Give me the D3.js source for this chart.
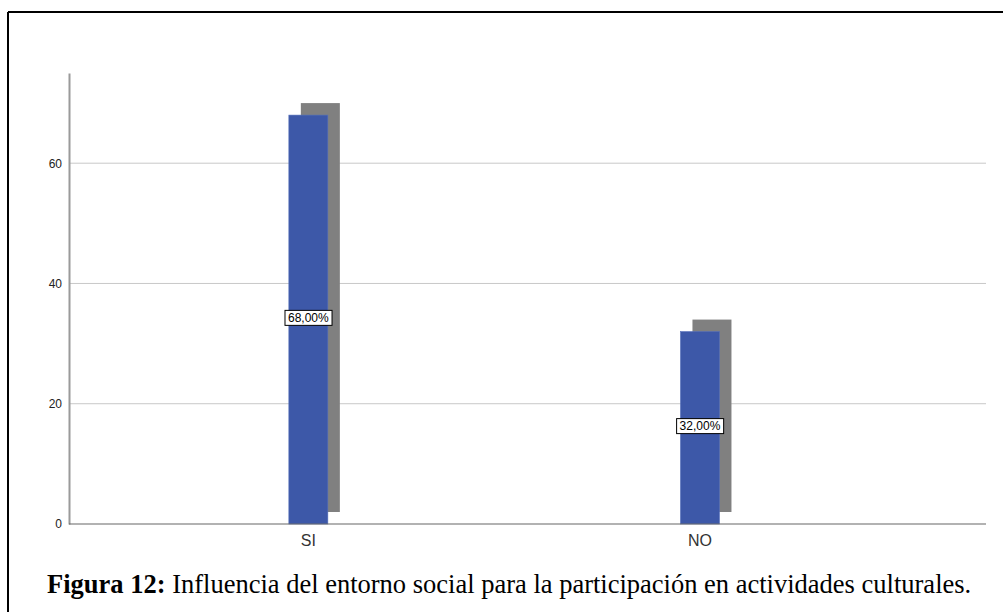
<!DOCTYPE html>
<html>
<head>
<meta charset="utf-8">
<script src="https://cdn.jsdelivr.net/npm/d3@7/dist/d3.min.js"></script>
<style>
  html, body { margin: 0; padding: 0; background: #fff; }
  svg { display: block; }
</style>
</head>
<body>
<svg id="chart" width="1003" height="612"></svg>
<script>
// Respuestas por categoría (porcentaje)
const categories = ["SI", "NO"];
const values = [68, 32];
const valueLabels = ["68,00%", "32,00%"];
const yTicks = [0, 20, 40, 60];
const caption = { bold: "Figura 12:", text: " Influencia del entorno social para la participación en actividades culturales." };

const svg = d3.select("#chart");

// Marco de la figura
svg.append("line").attr("x1", 8).attr("x2", 1003).attr("y1", 12).attr("y2", 12)
  .attr("stroke", "#000").attr("stroke-width", 2);
svg.append("line").attr("x1", 8).attr("x2", 8).attr("y1", 12).attr("y2", 612)
  .attr("stroke", "#000").attr("stroke-width", 2);

const plot = { left: 69, right: 986, top: 73, bottom: 524 };

const x = d3.scaleBand()
  .domain(categories)
  .range([plot.left, plot.right])
  .paddingInner(0.9004)
  .paddingOuter(0.621)
  .align(0.452);

const y = d3.scaleLinear().domain([0, 75]).range([plot.bottom, plot.top]);

// Líneas de cuadrícula
svg.append("g")
  .selectAll("line")
  .data(yTicks.filter(d => d > 0))
  .join("line")
  .attr("x1", plot.left).attr("x2", plot.right)
  .attr("y1", d => y(d)).attr("y2", d => y(d))
  .attr("stroke", "#c8c8c8").attr("stroke-width", 1);

// Eje Y
const yAxis = svg.append("g")
  .attr("transform", `translate(${plot.left},0)`)
  .call(d3.axisLeft(y).tickValues(yTicks).tickSize(0).tickPadding(7).tickFormat(d3.format("d")));
yAxis.select(".domain").attr("stroke", "#9a9a9a").attr("stroke-width", 2);
yAxis.selectAll("text").attr("font-family", "Liberation Sans, Arial, sans-serif")
  .attr("font-size", 12).attr("fill", "#222");

// Sombra de las barras
const shadowOffset = 12;
svg.append("g")
  .selectAll("rect")
  .data(categories)
  .join("rect")
  .attr("x", (d) => x(d) + shadowOffset)
  .attr("y", (d, i) => y(values[i]) - shadowOffset)
  .attr("width", x.bandwidth())
  .attr("height", (d, i) => y(0) - y(values[i]))
  .attr("fill", "#808080");

// Barras
svg.append("g")
  .selectAll("rect")
  .data(categories)
  .join("rect")
  .attr("x", d => x(d))
  .attr("y", (d, i) => y(values[i]))
  .attr("width", x.bandwidth())
  .attr("height", (d, i) => y(0) - y(values[i]))
  .attr("fill", "#3d58a8")
  .attr("stroke", "#5570bb").attr("stroke-width", 0.6);

// Eje X
const xAxis = svg.append("g")
  .attr("transform", `translate(0,${plot.bottom})`)
  .call(d3.axisBottom(x).tickSize(0).tickPadding(11));
xAxis.select(".domain").remove();
svg.append("line")
  .attr("x1", plot.left).attr("x2", plot.right)
  .attr("y1", plot.bottom).attr("y2", plot.bottom)
  .attr("stroke", "#666").attr("stroke-width", 1.2);
xAxis.selectAll("text").attr("font-family", "Liberation Sans, Arial, sans-serif")
  .attr("font-size", 16).attr("fill", "#333");

// Etiquetas de valor
const lbl = svg.append("g").selectAll("g")
  .data(categories)
  .join("g")
  .attr("transform", (d, i) => `translate(${x(d) + x.bandwidth() / 2},${(y(values[i]) + y(0)) / 2 - 2})`);
lbl.append("text")
  .attr("text-anchor", "middle")
  .attr("dy", "0.36em")
  .attr("font-family", "Liberation Sans, Arial, sans-serif")
  .attr("font-size", 12)
  .attr("fill", "#000")
  .text((d, i) => valueLabels[i]);
lbl.each(function () {
  const g = d3.select(this);
  const b = g.select("text").node().getBBox();
  g.insert("rect", "text")
    .attr("x", b.x - 3).attr("y", b.y - 0.5)
    .attr("width", b.width + 6).attr("height", b.height + 1)
    .attr("fill", "#fff").attr("stroke", "#000").attr("stroke-width", 1);
});

// Título de la figura
const cap = svg.append("text")
  .attr("x", 47).attr("y", 593)
  .attr("font-family", "Liberation Serif, Times New Roman, serif")
  .attr("font-size", 26.5)
  .attr("fill", "#000");
cap.append("tspan").attr("font-weight", "bold").text(caption.bold);
cap.append("tspan").text(caption.text);
</script>
</body>
</html>
